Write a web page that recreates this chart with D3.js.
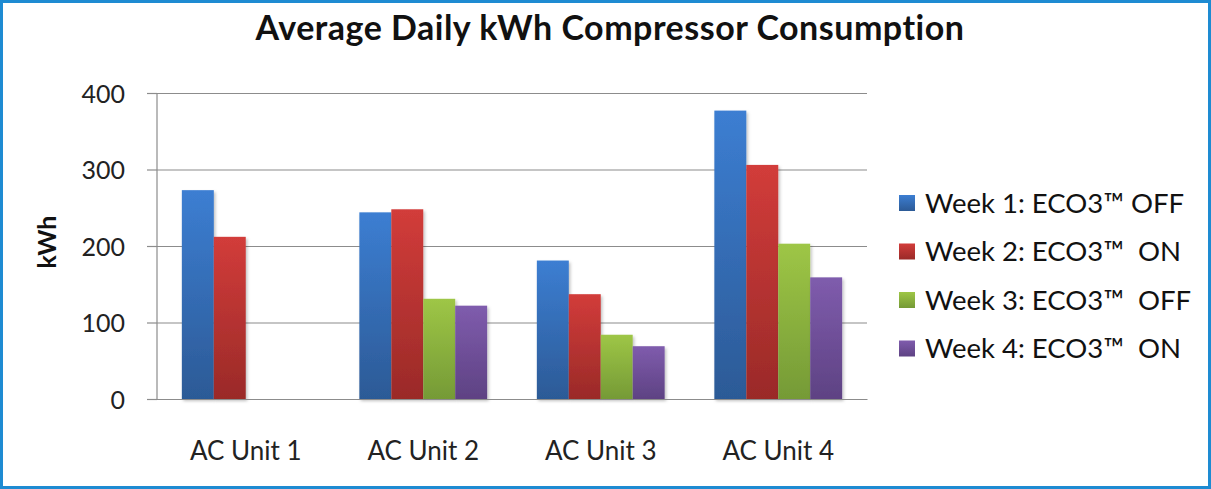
<!DOCTYPE html>
<html>
<head>
<meta charset="utf-8">
<script src="https://cdn.jsdelivr.net/npm/d3@7"></script>
<style>
  html, body { margin: 0; padding: 0; background: #fff; }
  svg { display: block; font-family: Lato, "Open Sans", sans-serif; }
  svg text { font-family: Lato, "Open Sans", sans-serif; }
</style>
</head>
<body>
<div id="chart"></div>
<script>
const categories = ['AC Unit 1', 'AC Unit 2', 'AC Unit 3', 'AC Unit 4'];
const seriesNames = ['Week 1: ECO3\u2122 OFF', 'Week 2: ECO3\u2122  ON', 'Week 3: ECO3\u2122  OFF', 'Week 4: ECO3\u2122  ON'];
const week1 = [273, 244, 181, 377];
const week2 = [212, 248, 137, 306];
const week3 = [null, 131, 84, 203];
const week4 = [null, 122, 69, 159];
const yTicks = [0, 100, 200, 300, 400];
const colorsTop = ['#3c7ed2', '#d23c3a', '#9ec646', '#7f5cad'];
const colorsBottom = ['#2c5a96', '#9a2a28', '#759a36', '#5e4283'];

const series = [week1, week2, week3, week4];

const W = 1211, H = 489;
const margin = {top: 93, right: 344, bottom: 90, left: 157};
const width = W - margin.left - margin.right;
const height = H - margin.top - margin.bottom;

const root = d3.select('#chart').append('svg')
  .attr('width', W)
  .attr('height', H);

const defs = root.append('defs');
colorsTop.forEach((c, i) => {
  const g = defs.append('linearGradient')
    .attr('id', 'grad' + i)
    .attr('x1', 0).attr('y1', 0).attr('x2', 0).attr('y2', 1);
  g.append('stop').attr('offset', '0%').attr('stop-color', c);
  g.append('stop').attr('offset', '100%').attr('stop-color', colorsBottom[i]);
});
const shadow = defs.append('filter').attr('id', 'shadow')
  .attr('x', '-20%').attr('y', '-5%').attr('width', '140%').attr('height', '115%');
shadow.append('feDropShadow')
  .attr('dx', 1.5).attr('dy', 2).attr('stdDeviation', 1.5)
  .attr('flood-color', '#000').attr('flood-opacity', 0.25);

// outer frame
root.append('rect')
  .attr('x', 1.5).attr('y', 1.5)
  .attr('width', W - 3).attr('height', H - 3)
  .attr('fill', '#fff')
  .attr('stroke', '#1e8bd2')
  .attr('stroke-width', 3);

root.append('text')
  .attr('x', 610)
  .attr('y', 40)
  .attr('text-anchor', 'middle')
  .style('font-size', '34px')
  .style('font-weight', 'bold')
  .style('letter-spacing', '0.5px')
  .attr('fill', '#111')
  .text('Average Daily kWh Compressor Consumption');

const svg = root.append('g')
  .attr('transform', `translate(${margin.left},${margin.top})`);

const x0 = d3.scaleBand()
  .domain(categories)
  .range([0, width])
  .paddingInner(0.28)
  .paddingOuter(0.14);

const x1 = d3.scaleBand()
  .domain(d3.range(series.length))
  .range([0, x0.bandwidth()]);

const y = d3.scaleLinear()
  .domain([0, 400])
  .range([height, 0]);

// gridlines
svg.append('g')
  .attr('class', 'grid')
  .call(d3.axisLeft(y).tickValues(yTicks).tickSize(-width).tickFormat(''))
  .call(g => g.select('.domain').remove())
  .call(g => g.selectAll('line').attr('stroke', '#8c8c8c').attr('stroke-width', 1.2));

// y axis
svg.append('g')
  .call(d3.axisLeft(y).tickValues(yTicks).tickSize(10).tickPadding(22))
  .attr('font-family', null)
  .call(g => g.select('.domain').attr('stroke', '#8c8c8c').attr('stroke-width', 1.2).attr('d', `M-0,${height}V0`))
  .call(g => g.selectAll('line').attr('stroke', '#8c8c8c').attr('stroke-width', 1.2))
  .call(g => g.selectAll('text').style('font-size', '25px').attr('fill', '#222').attr('dy', '0.36em'));

// bars
const groups = svg.selectAll('.cat')
  .data(categories)
  .enter().append('g')
  .attr('class', 'cat')
  .attr('transform', d => `translate(${x0(d)},0)`);

groups.selectAll('rect')
  .data((d, ci) => series.map((s, si) => ({si, v: s[ci]})).filter(d => d.v != null))
  .enter().append('rect')
  .attr('x', d => x1(d.si))
  .attr('width', x1.bandwidth())
  .attr('y', d => y(d.v))
  .attr('height', d => height - y(d.v))
  .attr('fill', d => `url(#grad${d.si})`)
  .attr('filter', 'url(#shadow)');

// x axis baseline + labels
svg.append('g')
  .attr('transform', `translate(0,${height})`)
  .call(d3.axisBottom(x0).tickSize(0))
  .attr('font-family', null)
  .call(g => g.select('.domain').attr('stroke', '#8c8c8c').attr('stroke-width', 1.2))
  .call(g => g.selectAll('text').style('font-size', '26px').attr('fill', '#222').attr('y', 61).attr('dy', 0));

// y label
root.append('text')
  .attr('transform', 'translate(56,242) rotate(-90)')
  .attr('text-anchor', 'middle')
  .style('font-size', '25px')
  .style('font-weight', 'bold')
  .attr('fill', '#111')
  .text('kWh');

// legend
const legend = root.append('g')
  .attr('transform', 'translate(899,203)');
const item = legend.selectAll('g')
  .data(seriesNames)
  .enter().append('g')
  .attr('transform', (d, i) => `translate(0,${i * 48.5})`);
item.append('rect')
  .attr('x', 0).attr('y', -8)
  .attr('width', 16).attr('height', 16)
  .attr('fill', (d, i) => `url(#grad${i})`);
item.append('text')
  .attr('x', 26)
  .attr('dy', '0.36em')
  .style('font-size', '27.5px')
  .attr('fill', '#111')
  .style('white-space', 'pre')
  .text(d => d);
</script>
</body>
</html>
